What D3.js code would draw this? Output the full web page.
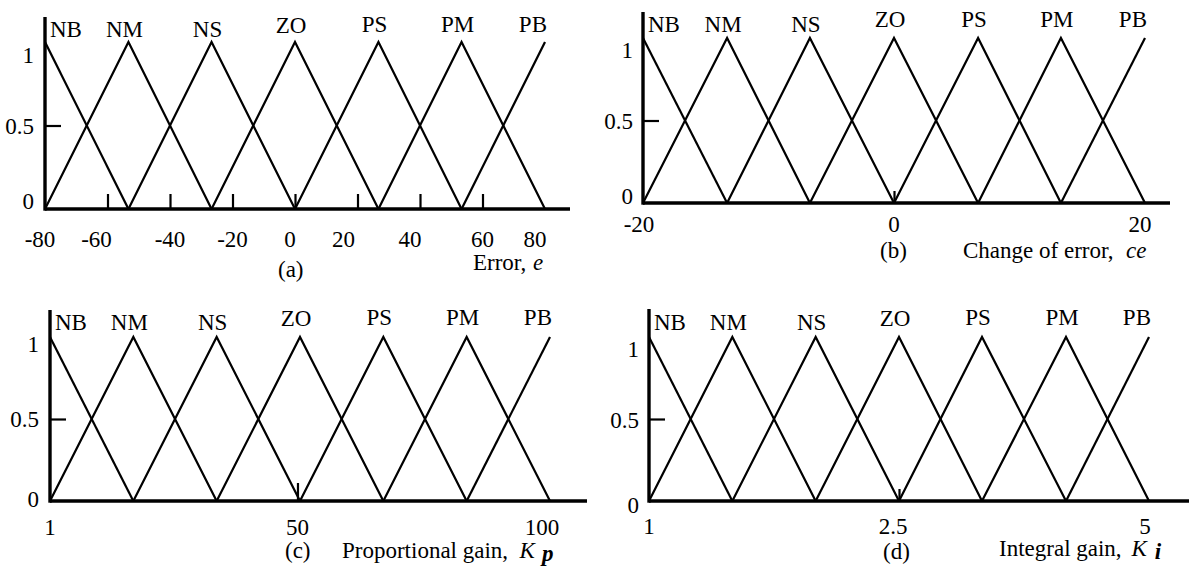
<!DOCTYPE html>
<html>
<head>
<meta charset="utf-8">
<script src="https://cdn.jsdelivr.net/npm/d3@7"></script>
<style>
  html, body { margin: 0; padding: 0; background: #fff; }
  svg { display: block; }
  text { font-family: "Liberation Serif", "Times New Roman", serif; fill: #000; }
</style>
</head>
<body>
<svg id="chart" width="1189" height="573"></svg>
<script>
// Linguistic terms shared by every fuzzy variable
const terms = ["NB", "NM", "NS", "ZO", "PS", "PM", "PB"];
// Membership grade ticks
const gradeTicks = [0, 0.5, 1];

// (a) Error, e
const errorCenters = [-80, -53.3, -26.7, 0, 26.7, 53.3, 80];
const errorTickLabels = [-80, -60, -40, -20, 0, 20, 40, 60, 80];
const errorTickMarks = [-60, -40, -20, 0, 20, 40, 60];

// (b) Change of error, ce
const changeCenters = [-20, -13.3, -6.7, 0, 6.7, 13.3, 20];
const changeTickLabels = [-20, 0, 20];
const changeTickMarks = [0];

// (c) Proportional gain, Kp
const kpCenters = [1, 17.5, 34, 50.5, 67, 83.5, 100];
const kpTickLabels = [1, 50, 100];
const kpTickMarks = [50];

// (d) Integral gain, Ki
const kiCenters = [1, 1.5, 2, 2.5, 3.33, 4.17, 5];
const kiTickLabels = [1, 2.5, 5];
const kiTickMarks = [2.5];

const svg = d3.select("#chart");
const FONT = 23;

// Layout of the four panels
const panels = [
  {
    centers: errorCenters, tickLabels: errorTickLabels, tickMarks: errorTickMarks,
    xDomain: [-80, 80], xRange: [45, 545], yRange: [209, 42],
    axisTop: 17, axisRight: 570, tickLen: 15,
    tickLabelY: 247, tickLabelDx: [-5, -11, 0, 0, -5, -14, -10, 0, -10],
    termY: [37, 37, 37, 33, 32, 32, 32],
    gradeDx: -11, gradeDy: [0, 8, 21],
    caption: { tag: "(a)", tagX: 278, tagY: 277, x: 473, y: 270,
               parts: [["Error, ", "normal", "normal", 0, 0], ["e", "italic", "normal", 0, 1]] }
  },
  {
    centers: changeCenters, tickLabels: changeTickLabels, tickMarks: changeTickMarks,
    xDomain: [-20, 20], xRange: [643, 1145], yRange: [203, 38],
    axisTop: 12, axisRight: 1170, tickLen: 12,
    tickLabelY: 232, tickLabelDx: [-4, 0, -5],
    termY: [32, 32, 32, 27, 27, 27, 27],
    gradeDx: -10, gradeDy: [1, 8, 20],
    caption: { tag: "(b)", tagX: 880, tagY: 258, x: 963, y: 258,
               parts: [["Change of error,\u00a0 ", "normal", "normal", 0, 0], ["ce", "italic", "normal", 0, 1]] }
  },
  {
    centers: kpCenters, tickLabels: kpTickLabels, tickMarks: kpTickMarks,
    xDomain: [1, 100], xRange: [50, 550], yRange: [501, 337],
    axisTop: 310, axisRight: 587, tickLen: 18,
    tickLabelY: 535, tickLabelDx: [0, 0, -8],
    termY: [330, 330, 330, 326, 325, 325, 325],
    gradeDx: -11, gradeDy: [6, 8, 15],
    caption: { tag: "(c)", tagX: 285, tagY: 558, x: 342, y: 558,
               parts: [["Proportional gain,\u00a0 ", "normal", "normal", 0, 0], ["K", "italic", "normal", 0, 0],
                       ["p", "italic", "bold", 3, 7]] }
  },
  {
    centers: kiCenters, tickLabels: kiTickLabels, tickMarks: kiTickMarks,
    // piecewise scale: 2.5 sits at the middle of the universe
    xDomain: [1, 2.5, 5], xRange: [649, 899, 1149], yRange: [501, 337],
    axisTop: 309, axisRight: 1189, tickLen: 12,
    tickLabelY: 534, tickLabelDx: [0, -6, -4],
    termY: [330, 330, 330, 326, 325, 325, 325],
    gradeDx: -10, gradeDy: [12, 9, 20],
    caption: { tag: "(d)", tagX: 883, tagY: 559, x: 999, y: 556,
               parts: [["Integral gain, ", "normal", "normal", 0, 0], ["K", "italic", "normal", 0, 4],
                       ["i", "italic", "bold", 3, 8]] }
  }
];

panels.forEach(p => {
  const g = svg.append("g");
  const x = d3.scaleLinear().domain(p.xDomain).range(p.xRange);
  const y = d3.scaleLinear().domain([0, 1]).range(p.yRange);
  const c = p.centers;

  // Triangular membership functions
  const line = d3.line().x(d => x(d[0])).y(d => y(d[1]));
  c.forEach((ci, i) => {
    const pts = [];
    if (i > 0) pts.push([c[i - 1], 0]);
    pts.push([ci, 1]);
    if (i < c.length - 1) pts.push([c[i + 1], 0]);
    g.append("path")
      .attr("d", line(pts))
      .attr("fill", "none")
      .attr("stroke", "#000")
      .attr("stroke-width", 2.2)
      .attr("stroke-linejoin", "miter");
  });

  // Tick marks pointing up from the horizontal axis
  const xAxis = d3.axisBottom(x)
    .tickValues(p.tickMarks)
    .tickSizeInner(-p.tickLen)
    .tickSizeOuter(0)
    .tickFormat("");
  const ax = g.append("g").attr("transform", `translate(0,${y(0)})`).call(xAxis);
  ax.select(".domain").remove();
  ax.selectAll(".tick line").attr("stroke", "#000").attr("stroke-width", 2.2);

  // Horizontal and vertical axis lines
  const x0 = x(p.xDomain[0]);
  g.append("line")
    .attr("x1", x0).attr("x2", p.axisRight)
    .attr("y1", y(0)).attr("y2", y(0))
    .attr("stroke", "#000").attr("stroke-width", 3.4);
  g.append("line")
    .attr("x1", x0).attr("x2", x0)
    .attr("y1", p.axisTop).attr("y2", y(0) + 1.7)
    .attr("stroke", "#000").attr("stroke-width", 3.4);

  // Mid-grade tick on the vertical axis
  const yAxis = d3.axisRight(y).tickValues([0.5]).tickSizeInner(16).tickSizeOuter(0).tickFormat("");
  const ay = g.append("g").attr("transform", `translate(${x0},0)`).call(yAxis);
  ay.select(".domain").remove();
  ay.selectAll(".tick line").attr("stroke", "#000").attr("stroke-width", 2.2);

  // Grade labels
  g.selectAll("text.grade")
    .data(gradeTicks)
    .join("text")
    .attr("class", "grade")
    .attr("x", x0 + p.gradeDx)
    .attr("y", (d, i) => y(d) + p.gradeDy[i])
    .attr("text-anchor", "end")
    .attr("font-size", FONT)
    .text(d => d3.format("")(d));

  // Universe-of-discourse labels
  g.selectAll("text.xlab")
    .data(p.tickLabels)
    .join("text")
    .attr("class", "xlab")
    .attr("x", (d, i) => x(d) + p.tickLabelDx[i])
    .attr("y", p.tickLabelY)
    .attr("text-anchor", "middle")
    .attr("font-size", FONT)
    .text(d => d);

  // Term names above each peak
  g.selectAll("text.term")
    .data(terms)
    .join("text")
    .attr("class", "term")
    .attr("x", (d, i) => i === 0 ? x0 + 5 : (i === terms.length - 1 ? x(c[i]) + 2 : x(c[i]) - 4))
    .attr("y", (d, i) => p.termY[i])
    .attr("text-anchor", (d, i) => i === 0 ? "start" : (i === terms.length - 1 ? "end" : "middle"))
    .attr("font-size", FONT)
    .text(d => d);

  // Panel tag and variable caption
  g.append("text")
    .attr("x", p.caption.tagX).attr("y", p.caption.tagY)
    .attr("font-size", FONT)
    .text(p.caption.tag);
  const cap = g.append("text")
    .attr("x", p.caption.x).attr("y", p.caption.y)
    .attr("font-size", FONT);
  p.caption.parts.forEach(([t, style, weight, dy, dx]) => {
    cap.append("tspan")
      .attr("font-style", style)
      .attr("font-weight", weight)
      .attr("dy", dy)
      .attr("dx", dx)
      .text(t);
  });
});
</script>
</body>
</html>
